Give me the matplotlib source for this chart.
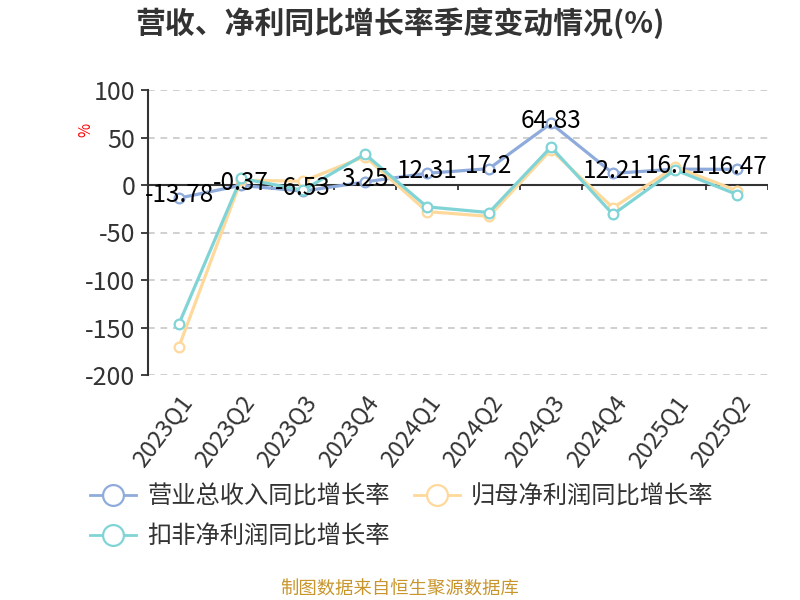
import matplotlib
matplotlib.use('Agg')
import matplotlib.pyplot as plt
from matplotlib.lines import Line2D
import numpy as np

plt.rcParams['font.family'] = ['Noto Sans CJK SC', 'DejaVu Sans']
plt.rcParams['axes.unicode_minus'] = False

quarters = ['2023Q1', '2023Q2', '2023Q3', '2023Q4', '2024Q1',
            '2024Q2', '2024Q3', '2024Q4', '2025Q1', '2025Q2']
revenue_yoy = [-13.78, -0.37, -6.53, 3.25, 12.31, 17.2, 64.83, 12.21, 16.71, 16.47]
parent_np_yoy = [-170, 5, 4, 30, -28, -33, 37, -24, 19, -6]
deducted_np_yoy = [-146, 7, -5.5, 32.5, -23, -29, 40, -31, 16, -10]

series_names = ['营业总收入同比增长率', '归母净利润同比增长率', '扣非净利润同比增长率']
colors = ['#8eabdb', '#fed99b', '#80d4d6']
yticks = [100, 50, 0, -50, -100, -150, -200]

fig = plt.figure(figsize=(8, 6), dpi=100)
ax = fig.add_axes([0.185, 0.375, 0.775, 0.475])

x = np.arange(len(quarters))
for vals, c in zip([revenue_yoy, parent_np_yoy, deducted_np_yoy], colors):
    ax.plot(x, vals, color=c, lw=2.3, marker='o', markersize=7,
            markerfacecolor='white', markeredgecolor=c, markeredgewidth=1.6,
            zorder=3, clip_on=False)

for xi, v in zip(x, revenue_yoy):
    ax.annotate(f'{v:g}', (xi, v), xytext=(0, 2), textcoords='offset points',
                ha='center', va='center', fontsize=17.5, color='black', zorder=5)

ax.set_xlim(-0.5, len(quarters) - 0.5)
ax.set_ylim(-200, 100)
ax.set_yticks(yticks)
ax.set_yticklabels([str(t) for t in yticks])
ax.tick_params(axis='y', labelsize=18, labelcolor='#333333', length=5,
               width=1.3, color='#333333', pad=4)
ax.set_xticks(x)
ax.set_xticklabels(quarters, rotation=53, ha='right', va='top',
                   rotation_mode='anchor')
ax.tick_params(axis='x', labelsize=17, labelcolor='#333333', length=0, pad=12)

for s in ['top', 'right', 'bottom']:
    ax.spines[s].set_visible(False)
ax.spines['left'].set_color('#333333')
ax.spines['left'].set_linewidth(1.5)

for t in yticks:
    if t != 0:
        ax.axhline(t, color='#c8c8c8', lw=1.2, ls=(0, (4, 3.5)), zorder=1)
ax.axhline(0, color='#333333', lw=1.5, zorder=2)
bounds = np.arange(len(quarters) + 1) - 0.5
ax.vlines(bounds, 0, -5, color='#333333', lw=1.3, zorder=2)

ax.text(-0.1, 0.86, '%', transform=ax.transAxes, rotation=90, color='red',
        fontsize=11, ha='center', va='center')

fig.suptitle('营收、净利同比增长率季度变动情况(%)', x=0.5, y=0.988,
             fontsize=21.5, fontweight='bold', color='#333333')

handles = [Line2D([], [], color=c, lw=2, marker='o', markersize=15,
                  markerfacecolor='white', markeredgecolor=c, markeredgewidth=1.6)
           for c in colors]
order = [0, 2, 1]
fig.legend([handles[i] for i in order], [series_names[i] for i in order],
           ncol=2, loc='upper left',
           bbox_to_anchor=(0.085, 0.23), frameon=False, fontsize=17.5,
           handlelength=1.9, handletextpad=0.45, columnspacing=1.0,
           labelspacing=0.55, labelcolor='#333333')

fig.text(0.5, 0.003, '制图数据来自恒生聚源数据库', ha='center', va='bottom',
         fontsize=13.2, color='#c8962d')

fig.savefig('out.png', dpi=100)
